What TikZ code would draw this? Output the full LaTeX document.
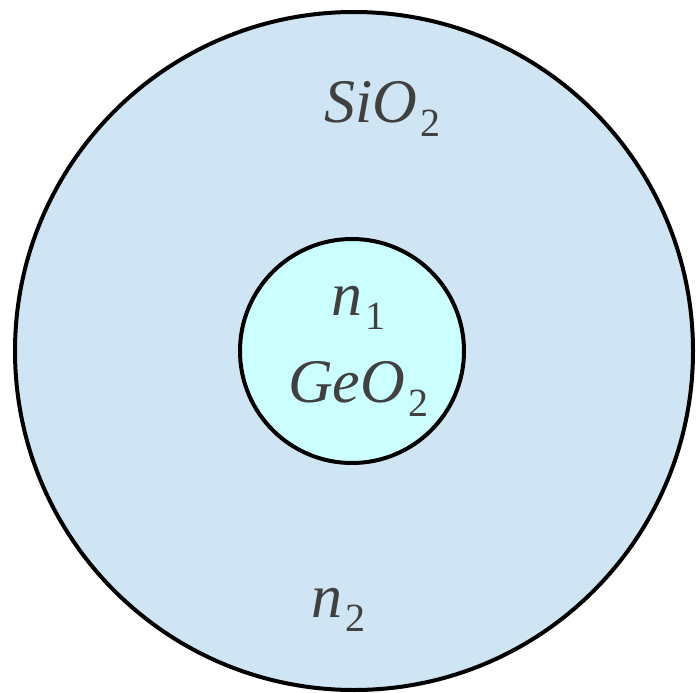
\documentclass[tikz,border=0pt]{standalone}
\usepackage{fontspec}
\setmainfont{Liberation Serif}
\usepackage{xcolor}

\definecolor{cladfill}{HTML}{CFE5F3}
\definecolor{corefill}{HTML}{CCFFFF}
\definecolor{txtgray}{HTML}{404040}

\newcommand{\idx}[1]{\kern3pt\raisebox{-0.24em}{\fontsize{40}{40}\selectfont\upshape #1}}

\begin{document}
\begin{tikzpicture}[x=1pt, y=-1pt,
        layer/.style={circle, draw=black, line width=4pt, inner sep=0pt},
        txt/.style={text=txtgray, inner sep=0pt, anchor=base west,
            font=\fontsize{62}{64}\selectfont\itshape}]

        \useasboundingbox (0,0) rectangle (696,693);

        %% ── Gaine (SiO2) ───────────────────────────────────────────────────
        \node[layer, fill=cladfill, minimum size=678pt] (clad) at (354,351) {};

        %% ── Coeur (GeO2) ───────────────────────────────────────────────────
        \node[layer, fill=corefill, minimum size=224pt] (core) at (352,351) {};

        %% ── Textes ─────────────────────────────────────────────────────────
        \node[txt] (sio) at (324,122) {SiO\idx{2}};
        \node[txt] (n1) at (331,315) {n\idx{1}};
        \node[txt] (geo) at (288,402) {GeO\idx{2}};
        \node[txt] (n2) at (311,617) {n\idx{2}};

    \end{tikzpicture}
\end{document}
